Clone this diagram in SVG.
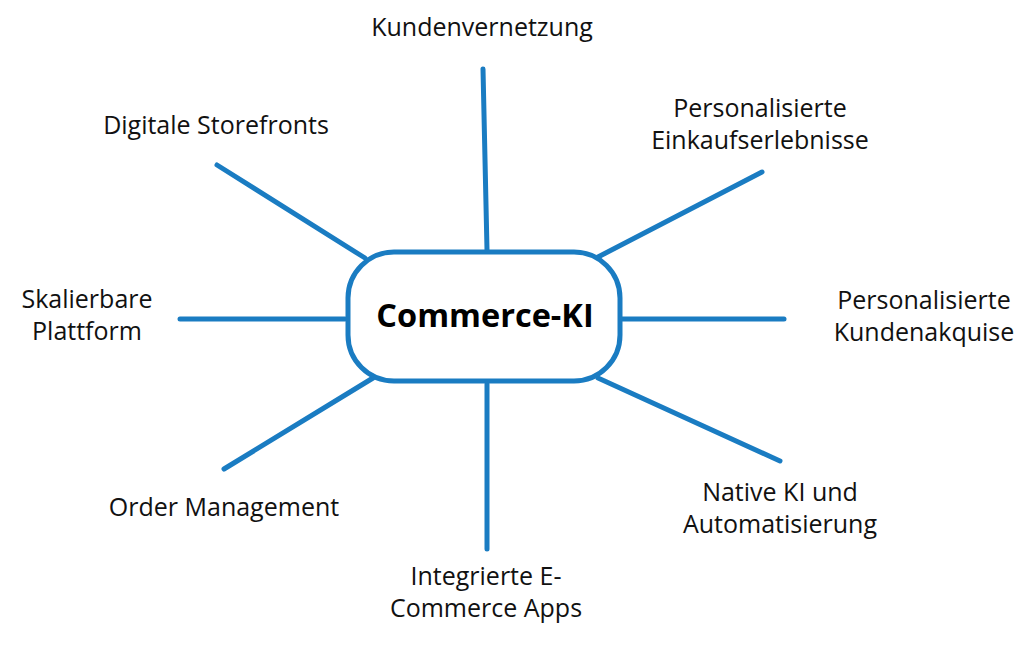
<svg xmlns="http://www.w3.org/2000/svg" width="1030" height="646" viewBox="0 0 1030 646">
<style>
.c{stroke:#1a7cc2;stroke-width:5;stroke-linecap:round;fill:none}
.t{font-family:"Open Sans","Noto Sans",sans-serif;font-size:25px;fill:#111;text-anchor:middle}
.b{font-family:"Open Sans","Noto Sans",sans-serif;font-size:32.5px;font-weight:bold;fill:#000;text-anchor:middle}
</style>
<rect width="1030" height="646" fill="#fff"/>
<g id="connectors">
<line class="c" x1="483" y1="69" x2="487" y2="250"/>
<line class="c" x1="217" y1="165" x2="365" y2="258"/>
<line class="c" x1="762" y1="172" x2="598" y2="257"/>
<line class="c" x1="180" y1="319" x2="345" y2="319"/>
<line class="c" x1="622" y1="319" x2="784" y2="319"/>
<line class="c" x1="224" y1="469" x2="373" y2="378"/>
<line class="c" x1="487" y1="384" x2="487" y2="549"/>
<line class="c" x1="598" y1="378" x2="780" y2="461"/>
</g>
<g id="center">
<rect x="348" y="252" width="272" height="129" rx="46" ry="46" fill="#fff" stroke="#1a7cc2" stroke-width="5"/>
<text class="b" x="485" y="327">Commerce-KI</text>
</g>
<g id="n1"><text class="t" x="482" y="36">Kundenvernetzung</text></g>
<g id="n2"><text class="t" x="216" y="134">Digitale Storefronts</text></g>
<g id="n3"><text class="t" x="760" y="117">Personalisierte</text><text class="t" x="760" y="149">Einkaufserlebnisse</text></g>
<g id="n4"><text class="t" x="87" y="308">Skalierbare</text><text class="t" x="87" y="340">Plattform</text></g>
<g id="n5"><text class="t" x="924" y="309">Personalisierte</text><text class="t" x="924" y="341">Kundenakquise</text></g>
<g id="n6"><text class="t" x="224" y="516">Order Management</text></g>
<g id="n7"><text class="t" x="780" y="501">Native KI und</text><text class="t" x="780" y="533">Automatisierung</text></g>
<g id="n8"><text class="t" x="486" y="585">Integrierte E-</text><text class="t" x="486" y="617">Commerce Apps</text></g>
</svg>
